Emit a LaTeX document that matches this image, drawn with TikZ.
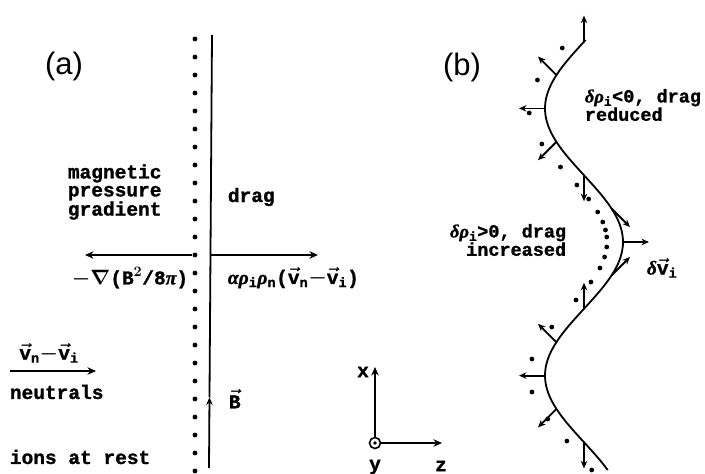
\documentclass[tikz,border=0pt]{standalone}
\usepackage{amsmath,amssymb}
\usepackage{fontspec}
\usepackage{bm}
\setsansfont{Liberation Sans}
\newfontfamily\lblfont{Liberation Mono}[BoldFeatures={FakeBold=1.2}]
\newfontfamily\grkfont{Liberation Serif}[BoldItalicFeatures={FakeBold=1.2}]
\newcommand{\gk}[1]{{\grkfont\bfseries\itshape #1}}
\newcommand{\sub}[1]{\textsubscript{#1}}
\newcommand{\vv}{\ensuremath{\bm{\vec{\text{v}}}}}
\newcommand{\mns}{\ensuremath{\bm{-}}}
\usetikzlibrary{arrows.meta, positioning, calc}

\begin{document}
\begin{tikzpicture}[
        x=1pt, y=-1pt,
        line width=1.8pt,
        lbl/.style={
                font=\fontsize{19.5}{18}\selectfont\lblfont\bfseries,
                inner sep=0pt, align=left
            },
        tightlbl/.style={lbl, font=\fontsize{18.5}{16}\selectfont\lblfont\bfseries},
        panel/.style={font=\fontsize{31}{31}\selectfont\sffamily, inner sep=0pt},
        arr/.style={-{Stealth[length=8.5pt, width=7.5pt]}},
        smallarr/.style={-{Stealth[length=7.5pt, width=6.5pt]}},
        iondot/.style={circle, fill, inner sep=0pt, minimum size=4.8pt}
    ]

    \useasboundingbox (0,0) rectangle (705,474);

    % ===== Panel (a): field line and ions =====
    \node[panel] (labela) at (64,66) {(a)};

    \foreach \i in {0,...,24} {
            \node[iondot] (ion\i) at (195,{39+18*\i}) {};
        }

    \coordinate (ftop) at (212,35);
    \coordinate (fbot) at (209,468);
    \coordinate (fmid) at ($(fbot)!0.163!(ftop)$);
    \coordinate (fforce) at (210.5,255);
    \draw[smallarr] (fbot) -- (fmid);
    \draw (fmid) -- (ftop);
    \node[lbl, anchor=west] (blabel) at (228,399) {$\bm{\vec{\text{B}}}$};

    % ===== Forces =====
    \coordinate (magend) at (85,255);
    \coordinate (dragend) at (318,255);
    \draw[arr] (ion12) -- (magend);
    \draw[arr] (fforce) -- (dragend);

    \node[lbl, anchor=west] (magtext) at (67,192) {magnetic\\pressure\\gradient};
    \node[lbl, anchor=west] (dragtext) at (227,197) {drag};
    \node[lbl, anchor=west] (magterm) at (71,278)
    {$\bm{-\nabla}$(B$^{\bm 2}$/8\gk{π})};
    \node[lbl, anchor=west] (dragterm) at (227,278)
    {\gk{αρ}\sub{i}\gk{ρ}\sub{n}(\vv\sub{n}\mns\vv\sub{i})};

    % ===== Neutral flow =====
    \coordinate (nstart) at (10,371);
    \coordinate (nend) at (96,371);
    \draw[arr] (nstart) -- (nend);
    \node[lbl] (reltext) at (49,353) {\vv\sub{n}\mns\vv\sub{i}};
    \node[lbl, anchor=west] (neutrals) at (9,392) {neutrals};
    \node[lbl, anchor=west] (ions) at (9,457) {ions at rest};

    % ===== Axes =====
    \node[circle, draw, line width=1.6pt, minimum size=11pt, inner sep=0pt] (origin) at (375,443) {};
    \fill (origin.center) circle (1.8pt);
    \coordinate (xend) at (375,367);
    \coordinate (zend) at (442,443);
    \draw[arr] (origin.north) -- (xend);
    \draw[arr] (origin.east) -- (zend);
    \node[lbl] (xlabel) at (363,372) {x};
    \node[lbl] (ylabel) at (375,467) {y};
    \node[lbl] (zlabel) at (441,466) {z};

    % ===== Panel (b): perturbed field line =====
    \node[panel] (labelb) at (462,67) {(b)};

    \draw plot[smooth, domain=40:470, samples=70, variable=\t]
    ({584+39*cos(1.3483*(\t-242))}, \t);

    % displaced ions
    \foreach \y [count=\n] in {48,80,113,144,167,185,199,212,222,230,237,247,
            257,268,282,300,327,359,392,419,441,470} {
            \node[iondot] (pion\n) at ({568+39*cos(1.3483*(\y-242))}, \y) {};
        }

    % velocity perturbations
    \foreach \k in {-6,...,6} {
            \coordinate (p\k) at ({584+39*cos(45*\k)}, {242+33.4*\k});
            \draw[smallarr] (p\k) -- ++({26*cos(45*\k)}, {-26*sin(45*\k)});
        }

    \node[tightlbl, anchor=west] (reduced) at (584,105)
    {\gk{δρ}\sub{i}<0, drag\\reduced};
    \node[tightlbl, anchor=east, align=right] (increased) at (567,240)
    {\gk{δρ}\sub{i}>0, drag\\increased};
    \node[lbl, anchor=west] (dvlabel) at (646,268) {\gk{δ}\vv\sub{i}};

\end{tikzpicture}
\end{document}
